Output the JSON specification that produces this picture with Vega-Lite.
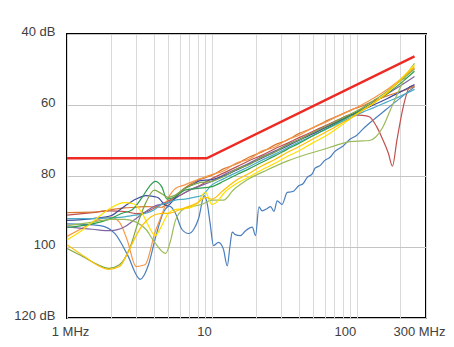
{
  "$schema": "https://vega.github.io/schema/vega-lite/v6.json",
  "width": 359,
  "height": 284,
  "autosize": {"type": "none"},
  "padding": {"left": 67, "top": 34, "right": 28, "bottom": 29},
  "background": "white",
  "config": {
    "view": {"stroke": "#000000", "strokeWidth": 2},
    "axis": {"labelFont": "Liberation Sans", "labelFontSize": 13, "labelColor": "#404040", "domain": false, "ticks": false, "title": null, "labelFlush": false, "labelOverlap": false}
  },
  "datasets": {
    "limit": [
      {"f": 1, "d": 75}, {"f": 9.2, "d": 75}, {"f": 250, "d": 46.3}
    ],
    "meas": [
      {"s":"blue","f":1,"d":93.5},{"s":"blue","f":1.3,"d":93.6},{"s":"blue","f":1.7,"d":94.0},{"s":"blue","f":2.15,"d":96.3},{"s":"blue","f":2.6,"d":102},{"s":"blue","f":3.2,"d":109.1},{"s":"blue","f":3.65,"d":105},{"s":"blue","f":4.1,"d":97},{"s":"blue","f":4.6,"d":90.5},{"s":"blue","f":5.1,"d":88.5},{"s":"blue","f":5.6,"d":90.5},{"s":"blue","f":6.2,"d":95},{"s":"blue","f":6.9,"d":96.2},{"s":"blue","f":7.5,"d":95},{"s":"blue","f":8.1,"d":91.9},{"s":"blue","f":8.85,"d":85.5},{"s":"blue","f":9.3,"d":88},{"s":"blue","f":9.73,"d":93.5},{"s":"blue","f":10.25,"d":99.6},{"s":"blue","f":11.1,"d":98.7},{"s":"blue","f":12,"d":100.6},{"s":"blue","f":12.76,"d":105.3},{"s":"blue","f":13.3,"d":100},{"s":"blue","f":13.8,"d":95.8},{"s":"blue","f":14.5,"d":96.5},{"s":"blue","f":15.7,"d":96.8},{"s":"blue","f":17,"d":95.5},{"s":"blue","f":19,"d":94.4},{"s":"blue","f":20,"d":96.8},{"s":"blue","f":21.1,"d":88.7},{"s":"blue","f":22.2,"d":89.8},{"s":"blue","f":24,"d":89.2},{"s":"blue","f":25.4,"d":88.6},{"s":"blue","f":26.8,"d":90},{"s":"blue","f":28.2,"d":87},{"s":"blue","f":30.5,"d":88},{"s":"blue","f":33.1,"d":84.6},{"s":"blue","f":35,"d":84.5},{"s":"blue","f":36.8,"d":84.2},{"s":"blue","f":39.8,"d":82.7},{"s":"blue","f":42.5,"d":82.2},{"s":"blue","f":45.4,"d":80.4},{"s":"blue","f":49.2,"d":79.4},{"s":"blue","f":51.5,"d":77.8},{"s":"blue","f":56,"d":77},{"s":"blue","f":60,"d":75.6},{"s":"blue","f":65,"d":74.8},{"s":"blue","f":70,"d":73.2},{"s":"blue","f":80,"d":71.6},{"s":"blue","f":90,"d":69.6},{"s":"blue","f":100,"d":68.5},{"s":"blue","f":110,"d":66.8},{"s":"blue","f":130,"d":64.2},{"s":"blue","f":160,"d":61.2},{"s":"blue","f":200,"d":58.0},{"s":"blue","f":250,"d":54.9},

      {"s":"red","f":1,"d":91},{"s":"red","f":1.5,"d":90.3},{"s":"red","f":2,"d":89.8},{"s":"red","f":2.5,"d":90},{"s":"red","f":3,"d":90.6},{"s":"red","f":3.5,"d":90.2},{"s":"red","f":4,"d":89},{"s":"red","f":5,"d":87},{"s":"red","f":6,"d":85.5},{"s":"red","f":7,"d":84},{"s":"red","f":8,"d":83},{"s":"red","f":10,"d":80.7},{"s":"red","f":12,"d":79.2},{"s":"red","f":15,"d":77.3},{"s":"red","f":18,"d":75.7},{"s":"red","f":22,"d":74.2},{"s":"red","f":27,"d":72.4},{"s":"red","f":33,"d":70.8},{"s":"red","f":40,"d":69.2},{"s":"red","f":50,"d":67.4},{"s":"red","f":60,"d":65.9},{"s":"red","f":75,"d":64.1},{"s":"red","f":90,"d":62.8},{"s":"red","f":110,"d":62.9},{"s":"red","f":122,"d":63.3},{"s":"red","f":137,"d":66.1},{"s":"red","f":150,"d":69.5},{"s":"red","f":165,"d":73.6},{"s":"red","f":176,"d":77.2},{"s":"red","f":189,"d":69.9},{"s":"red","f":209,"d":60.5},{"s":"red","f":233,"d":54.8},{"s":"red","f":250,"d":54.6},

      {"s":"brown","f":1,"d":90.3},{"s":"brown","f":1.5,"d":90.2},{"s":"brown","f":2,"d":89.5},{"s":"brown","f":2.5,"d":89},{"s":"brown","f":3,"d":88.8},{"s":"brown","f":3.5,"d":88.6},{"s":"brown","f":4,"d":88.7},{"s":"brown","f":4.5,"d":88.8},{"s":"brown","f":5,"d":87.5},{"s":"brown","f":6,"d":84.5},{"s":"brown","f":7,"d":82.5},{"s":"brown","f":8,"d":81.2},{"s":"brown","f":9,"d":80.5},{"s":"brown","f":10,"d":79.8},{"s":"brown","f":12,"d":78.0},{"s":"brown","f":15,"d":76.5},{"s":"brown","f":18,"d":74.7},{"s":"brown","f":22,"d":73.3},{"s":"brown","f":27,"d":71.3},{"s":"brown","f":33,"d":69.9},{"s":"brown","f":40,"d":68.0},{"s":"brown","f":50,"d":66.4},{"s":"brown","f":60,"d":64.7},{"s":"brown","f":75,"d":63.0},{"s":"brown","f":90,"d":61.5},{"s":"brown","f":110,"d":60.2},{"s":"brown","f":130,"d":58.9},{"s":"brown","f":160,"d":57.5},{"s":"brown","f":200,"d":56.2},{"s":"brown","f":250,"d":54.8},

      {"s":"orange","f":1,"d":97},{"s":"orange","f":1.3,"d":94.5},{"s":"orange","f":1.6,"d":92.5},{"s":"orange","f":2,"d":91.6},{"s":"orange","f":2.3,"d":93},{"s":"orange","f":2.6,"d":98},{"s":"orange","f":3,"d":105.5},{"s":"orange","f":3.45,"d":105},{"s":"orange","f":4.06,"d":95.7},{"s":"orange","f":4.5,"d":91},{"s":"orange","f":5,"d":86.2},{"s":"orange","f":5.6,"d":83.5},{"s":"orange","f":6.5,"d":82.5},{"s":"orange","f":8,"d":81},{"s":"orange","f":9,"d":80.2},{"s":"orange","f":10,"d":79.6},{"s":"orange","f":12,"d":78.6},{"s":"orange","f":15,"d":76.2},{"s":"orange","f":18,"d":75.3},{"s":"orange","f":22,"d":73.0},{"s":"orange","f":27,"d":71.9},{"s":"orange","f":33,"d":69.8},{"s":"orange","f":40,"d":68.5},{"s":"orange","f":50,"d":66.3},{"s":"orange","f":60,"d":65.0},{"s":"orange","f":75,"d":63.0},{"s":"orange","f":90,"d":61.6},{"s":"orange","f":110,"d":59.8},{"s":"orange","f":130,"d":58.1},{"s":"orange","f":160,"d":55.8},{"s":"orange","f":200,"d":52.8},{"s":"orange","f":250,"d":49.6},

      {"s":"purple","f":1,"d":94.3},{"s":"purple","f":1.5,"d":95},{"s":"purple","f":2,"d":95.4},{"s":"purple","f":2.5,"d":94.3},{"s":"purple","f":2.9,"d":92.4},{"s":"purple","f":3.5,"d":90},{"s":"purple","f":4,"d":88.5},{"s":"purple","f":5,"d":87.5},{"s":"purple","f":6,"d":85.5},{"s":"purple","f":7,"d":84},{"s":"purple","f":8,"d":83},{"s":"purple","f":10,"d":81.5},{"s":"purple","f":12,"d":79.7},{"s":"purple","f":15,"d":77.9},{"s":"purple","f":18,"d":76.4},{"s":"purple","f":22,"d":74.6},{"s":"purple","f":27,"d":73.0},{"s":"purple","f":33,"d":71.2},{"s":"purple","f":40,"d":69.7},{"s":"purple","f":50,"d":67.8},{"s":"purple","f":60,"d":66.3},{"s":"purple","f":75,"d":64.4},{"s":"purple","f":90,"d":62.9},{"s":"purple","f":110,"d":61.0},{"s":"purple","f":130,"d":59.3},{"s":"purple","f":160,"d":57.0},{"s":"purple","f":200,"d":54.6},{"s":"purple","f":250,"d":52},

      {"s":"indigo","f":1,"d":92.5},{"s":"indigo","f":1.5,"d":92},{"s":"indigo","f":2,"d":91.2},{"s":"indigo","f":2.5,"d":88.5},{"s":"indigo","f":3,"d":86.5},{"s":"indigo","f":3.5,"d":85.5},{"s":"indigo","f":4.2,"d":86},{"s":"indigo","f":4.9,"d":88.4},{"s":"indigo","f":5.5,"d":86.5},{"s":"indigo","f":6.4,"d":83.7},{"s":"indigo","f":7.3,"d":82.5},{"s":"indigo","f":8.3,"d":81.3},{"s":"indigo","f":10,"d":81},{"s":"indigo","f":12,"d":80.0},{"s":"indigo","f":15,"d":78.2},{"s":"indigo","f":18,"d":76.7},{"s":"indigo","f":22,"d":75.0},{"s":"indigo","f":27,"d":73.3},{"s":"indigo","f":33,"d":71.6},{"s":"indigo","f":40,"d":69.9},{"s":"indigo","f":50,"d":68.1},{"s":"indigo","f":60,"d":66.5},{"s":"indigo","f":75,"d":64.6},{"s":"indigo","f":90,"d":63.0},{"s":"indigo","f":110,"d":61.3},{"s":"indigo","f":130,"d":60.0},{"s":"indigo","f":160,"d":58.3},{"s":"indigo","f":200,"d":56.3},{"s":"indigo","f":250,"d":54.2},

      {"s":"teal","f":1,"d":92},{"s":"teal","f":1.5,"d":92},{"s":"teal","f":2,"d":91.8},{"s":"teal","f":2.5,"d":91.5},{"s":"teal","f":3,"d":91},{"s":"teal","f":3.5,"d":90.5},{"s":"teal","f":4,"d":89.5},{"s":"teal","f":4.5,"d":88},{"s":"teal","f":5,"d":87.5},{"s":"teal","f":5.6,"d":86.8},{"s":"teal","f":6.5,"d":86.5},{"s":"teal","f":7.5,"d":86},{"s":"teal","f":8.5,"d":85.5},{"s":"teal","f":10,"d":82.5},{"s":"teal","f":12,"d":80.8},{"s":"teal","f":15,"d":78.9},{"s":"teal","f":18,"d":77.4},{"s":"teal","f":22,"d":75.6},{"s":"teal","f":27,"d":73.9},{"s":"teal","f":33,"d":72.1},{"s":"teal","f":40,"d":70.4},{"s":"teal","f":50,"d":68.6},{"s":"teal","f":60,"d":67.0},{"s":"teal","f":75,"d":65.1},{"s":"teal","f":90,"d":63.6},{"s":"teal","f":110,"d":62.0},{"s":"teal","f":130,"d":60.8},{"s":"teal","f":160,"d":59.2},{"s":"teal","f":200,"d":57.5},{"s":"teal","f":250,"d":55.6},

      {"s":"green","f":1,"d":94.5},{"s":"green","f":1.5,"d":93.5},{"s":"green","f":2,"d":92},{"s":"green","f":2.4,"d":90.5},{"s":"green","f":2.8,"d":89.6},{"s":"green","f":3.3,"d":86},{"s":"green","f":3.7,"d":83},{"s":"green","f":4.06,"d":81.5},{"s":"green","f":4.5,"d":83},{"s":"green","f":4.9,"d":86.5},{"s":"green","f":5.5,"d":86},{"s":"green","f":6.5,"d":84},{"s":"green","f":8,"d":83.5},{"s":"green","f":10,"d":83},{"s":"green","f":12,"d":81.5},{"s":"green","f":15,"d":79.5},{"s":"green","f":18,"d":78.0},{"s":"green","f":22,"d":76.2},{"s":"green","f":27,"d":74.4},{"s":"green","f":33,"d":72.5},{"s":"green","f":40,"d":70.8},{"s":"green","f":50,"d":68.6},{"s":"green","f":60,"d":66.9},{"s":"green","f":75,"d":64.8},{"s":"green","f":90,"d":63.1},{"s":"green","f":110,"d":61.2},{"s":"green","f":130,"d":59.4},{"s":"green","f":160,"d":57.0},{"s":"green","f":200,"d":53.9},{"s":"green","f":250,"d":50.5},

      {"s":"oliveD","f":1,"d":100.4},{"s":"oliveD","f":1.3,"d":102.8},{"s":"oliveD","f":1.6,"d":104.8},{"s":"oliveD","f":1.95,"d":106},{"s":"oliveD","f":2.3,"d":105},{"s":"oliveD","f":2.7,"d":100.5},{"s":"oliveD","f":3.1,"d":93},{"s":"oliveD","f":3.5,"d":87.5},{"s":"oliveD","f":4.0,"d":84},{"s":"oliveD","f":4.5,"d":85},{"s":"oliveD","f":5,"d":86},{"s":"oliveD","f":5.5,"d":85.5},{"s":"oliveD","f":6.5,"d":83.5},{"s":"oliveD","f":8,"d":82},{"s":"oliveD","f":10,"d":81.5},{"s":"oliveD","f":12,"d":80.2},{"s":"oliveD","f":15,"d":78.0},{"s":"oliveD","f":18,"d":76.8},{"s":"oliveD","f":22,"d":74.8},{"s":"oliveD","f":27,"d":73.3},{"s":"oliveD","f":33,"d":71.3},{"s":"oliveD","f":40,"d":69.8},{"s":"oliveD","f":50,"d":67.7},{"s":"oliveD","f":60,"d":66.2},{"s":"oliveD","f":75,"d":64.2},{"s":"oliveD","f":90,"d":62.6},{"s":"oliveD","f":110,"d":60.7},{"s":"oliveD","f":130,"d":58.8},{"s":"oliveD","f":160,"d":56.3},{"s":"oliveD","f":200,"d":53.2},{"s":"oliveD","f":250,"d":49.9},

      {"s":"oliveL","f":1,"d":94},{"s":"oliveL","f":1.5,"d":93},{"s":"oliveL","f":2,"d":92.2},{"s":"oliveL","f":2.5,"d":92.2},{"s":"oliveL","f":3,"d":93},{"s":"oliveL","f":3.5,"d":95},{"s":"oliveL","f":4,"d":98.5},{"s":"oliveL","f":4.8,"d":101.8},{"s":"oliveL","f":5.2,"d":98},{"s":"oliveL","f":5.6,"d":92.5},{"s":"oliveL","f":6.4,"d":89.3},{"s":"oliveL","f":7.5,"d":88.5},{"s":"oliveL","f":8.5,"d":88},{"s":"oliveL","f":10,"d":86.8},{"s":"oliveL","f":12,"d":86.8},{"s":"oliveL","f":14,"d":84},{"s":"oliveL","f":18,"d":80.8},{"s":"oliveL","f":24,"d":78.3},{"s":"oliveL","f":33,"d":75.8},{"s":"oliveL","f":47.6,"d":73.6},{"s":"oliveL","f":60,"d":72.4},{"s":"oliveL","f":70,"d":71.5},{"s":"oliveL","f":90,"d":70.3},{"s":"oliveL","f":110,"d":70.1},{"s":"oliveL","f":122,"d":70},{"s":"oliveL","f":135,"d":69},{"s":"oliveL","f":150,"d":66.5},{"s":"oliveL","f":170,"d":61.5},{"s":"oliveL","f":190,"d":57},{"s":"oliveL","f":220,"d":51.5},{"s":"oliveL","f":250,"d":48.3},

      {"s":"yellowA","f":1,"d":98},{"s":"yellowA","f":1.3,"d":95},{"s":"yellowA","f":1.6,"d":92},{"s":"yellowA","f":2,"d":89},{"s":"yellowA","f":2.5,"d":87.5},{"s":"yellowA","f":2.9,"d":87.9},{"s":"yellowA","f":3.3,"d":90.5},{"s":"yellowA","f":3.7,"d":94.5},{"s":"yellowA","f":4.06,"d":96.8},{"s":"yellowA","f":4.5,"d":94},{"s":"yellowA","f":5,"d":90.5},{"s":"yellowA","f":5.5,"d":89.5},{"s":"yellowA","f":6,"d":89.3},{"s":"yellowA","f":7,"d":89},{"s":"yellowA","f":8,"d":87.5},{"s":"yellowA","f":9,"d":84.5},{"s":"yellowA","f":10,"d":88},{"s":"yellowA","f":11,"d":87},{"s":"yellowA","f":12,"d":85},{"s":"yellowA","f":15,"d":82},{"s":"yellowA","f":18,"d":80.3},{"s":"yellowA","f":22,"d":78.3},{"s":"yellowA","f":27,"d":76.5},{"s":"yellowA","f":33,"d":74.5},{"s":"yellowA","f":40,"d":72.9},{"s":"yellowA","f":50,"d":70.6},{"s":"yellowA","f":60,"d":68.9},{"s":"yellowA","f":75,"d":66.3},{"s":"yellowA","f":90,"d":63.9},{"s":"yellowA","f":110,"d":61.4},{"s":"yellowA","f":130,"d":59.5},{"s":"yellowA","f":160,"d":56.6},{"s":"yellowA","f":200,"d":52.8},{"s":"yellowA","f":250,"d":48.7},

      {"s":"yellowB","f":1,"d":99.4},{"s":"yellowB","f":1.3,"d":102.5},{"s":"yellowB","f":1.6,"d":105},{"s":"yellowB","f":1.95,"d":106.3},{"s":"yellowB","f":2.3,"d":105.5},{"s":"yellowB","f":2.6,"d":102},{"s":"yellowB","f":2.9,"d":98},{"s":"yellowB","f":3.3,"d":94},{"s":"yellowB","f":3.8,"d":91.5},{"s":"yellowB","f":4.5,"d":90.5},{"s":"yellowB","f":5,"d":90.5},{"s":"yellowB","f":6,"d":89.5},{"s":"yellowB","f":7,"d":88.5},{"s":"yellowB","f":8,"d":87.5},{"s":"yellowB","f":9,"d":86},{"s":"yellowB","f":10,"d":86.5},{"s":"yellowB","f":12,"d":84},{"s":"yellowB","f":15,"d":81},{"s":"yellowB","f":18,"d":79.3},{"s":"yellowB","f":22,"d":77.2},{"s":"yellowB","f":27,"d":75.4},{"s":"yellowB","f":33,"d":73.4},{"s":"yellowB","f":40,"d":71.7},{"s":"yellowB","f":50,"d":69.5},{"s":"yellowB","f":60,"d":67.8},{"s":"yellowB","f":75,"d":65.6},{"s":"yellowB","f":90,"d":63.8},{"s":"yellowB","f":110,"d":61.5},{"s":"yellowB","f":130,"d":59.6},{"s":"yellowB","f":160,"d":56.8},{"s":"yellowB","f":200,"d":52.9},{"s":"yellowB","f":250,"d":49.2}
    ]
  },
  "layer": [
    {
      "data": {"name": "meas"},
      "mark": {"type": "line", "interpolate": "monotone"},
      "encoding": {
        "x": {
          "field": "f", "type": "quantitative",
          "scale": {"type": "log", "domain": [1, 300], "nice": false},
          "axis": {
            "values": [1,2,3,4,5,6,7,8,9,10,20,30,40,50,60,70,80,90,100,200,300],
            "grid": true, "gridColor": "#d9d9d9", "gridWidth": 1,
            "labelExpr": "datum.value == 1 ? '1 MHz' : datum.value == 10 ? '10' : datum.value == 100 ? '100' : datum.value == 300 ? '300 MHz' : ''",
            "labelPadding": 7,
            "labelOffset": {"condition": [{"test": "datum.value == 10", "value": -8}, {"test": "datum.value == 100", "value": -12}, {"test": "datum.value == 300", "value": -7}], "value": 3}
          }
        },
        "y": {
          "field": "d", "type": "quantitative",
          "scale": {"domain": [40, 120], "reverse": true, "nice": false, "zero": false},
          "axis": {
            "values": [40,50,60,70,80,90,100,110,120],
            "grid": true, "gridColor": "#c4c4c4", "gridWidth": 1,
            "labelExpr": "datum.value == 40 ? '40 dB' : datum.value == 120 ? '120 dB' : (datum.value % 20 == 0 ? datum.label : '')",
            "labelPadding": 12,
            "labelOffset": -3
          }
        },
        "color": {
          "field": "s", "type": "nominal", "legend": null,
          "scale": {
            "domain": ["blue","red","brown","orange","purple","indigo","teal","green","oliveD","oliveL","yellowA","yellowB"],
            "range": ["#4A7EBF","#C0504D","#D9772F","#F79646","#8064A2","#3F4B9E","#4BACC6","#2E9E4E","#7FA743","#9BBB59","#FFE000","#FFC000"]
          }
        },
        "strokeWidth": {
          "field": "s", "type": "nominal", "legend": null,
          "scale": {
            "domain": ["blue","red","brown","orange","purple","indigo","teal","green","oliveD","oliveL","yellowA","yellowB"],
            "range": [1.2,1.2,1.2,1.2,1.2,1.2,1.2,1.8,1.2,1.2,1.6,1.6]
          }
        }
      }
    },
    {
      "data": {"name": "limit"},
      "mark": {"type": "line", "color": "#EE2A24", "strokeWidth": 2.4},
      "encoding": {
        "x": {"field": "f", "type": "quantitative"},
        "y": {"field": "d", "type": "quantitative"}
      }
    }
  ]
}
